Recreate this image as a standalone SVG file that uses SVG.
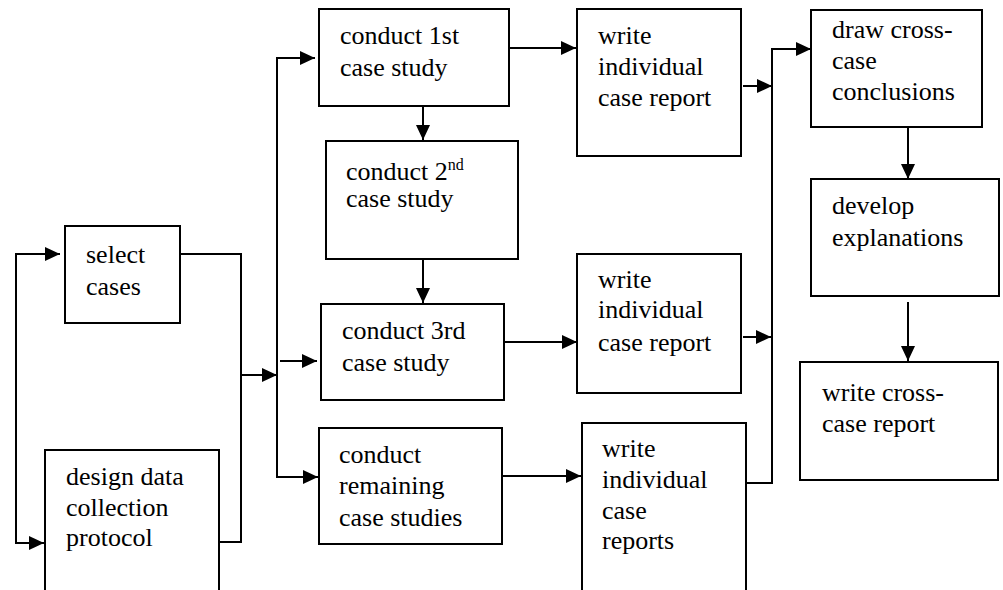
<svg xmlns="http://www.w3.org/2000/svg" width="1003" height="590" viewBox="0 0 1003 590">
<style>
.box{fill:#fff;stroke:#000;stroke-width:2}
.t{font-family:"Liberation Serif","Times New Roman",serif;font-size:26px;fill:#000}
.c{fill:none;stroke:#000;stroke-width:2}
.a{fill:none;stroke:#000;stroke-width:2;marker-end:url(#ah)}
</style>
<defs>
<marker id="ah" markerUnits="userSpaceOnUse" markerWidth="16" markerHeight="14" refX="15" refY="7" orient="auto">
<path d="M0,0 L15,7 L0,14 Z" fill="#000"/>
</marker>
</defs>
<rect width="1003" height="590" fill="#fff"/>
<g id="connectors">
<path class="a" d="M16 254 L60 254"/>
<path class="a" d="M16 253 L16 543 L44 543"/>
<path class="c" d="M180 254 L241 254 L241 542 L219 542"/>
<path class="a" d="M241 375 L277 375"/>
<path class="c" d="M277 58 L277 477"/>
<path class="a" d="M276 58 L315 58"/>
<path class="a" d="M276 477 L318 477"/>
<path class="a" d="M280 361 L317 361"/>
<path class="a" d="M423 106 L423 140"/>
<path class="a" d="M423 259 L423 303"/>
<path class="a" d="M509 48 L576 48"/>
<path class="a" d="M504 342 L577 342"/>
<path class="a" d="M502 476 L581 476"/>
<path class="a" d="M743 86 L772 86"/>
<path class="a" d="M743 337 L771 337"/>
<path class="c" d="M746 483 L772 483 L772 49"/>
<path class="a" d="M771 49 L811 49"/>
<path class="a" d="M908 127 L908 179"/>
<path class="a" d="M908 302 L908 361"/>
</g>
<g id="select-cases">
<rect class="box" x="65" y="226" width="115" height="97"/>
<text class="t" x="86" y="263">select</text>
<text class="t" x="86" y="295">cases</text>
</g>
<g id="design-protocol">
<rect class="box" x="45" y="450" width="174" height="160"/>
<text class="t" x="66" y="485">design data</text>
<text class="t" x="66" y="516">collection</text>
<text class="t" x="66" y="546">protocol</text>
</g>
<g id="conduct-1st">
<rect class="box" x="319" y="9" width="190" height="97"/>
<text class="t" x="340" y="44">conduct 1st</text>
<text class="t" x="340" y="76">case study</text>
</g>
<g id="conduct-2nd">
<rect class="box" x="326" y="141" width="192" height="118"/>
<text class="t" x="346" y="180">conduct 2<tspan font-size="16" dy="-10">nd</tspan></text>
<text class="t" x="346" y="207">case study</text>
</g>
<g id="conduct-3rd">
<rect class="box" x="321" y="304" width="183" height="96"/>
<text class="t" x="342" y="339">conduct 3rd</text>
<text class="t" x="342" y="371">case study</text>
</g>
<g id="conduct-remaining">
<rect class="box" x="319" y="428" width="183" height="116"/>
<text class="t" x="339" y="463">conduct</text>
<text class="t" x="339" y="494">remaining</text>
<text class="t" x="339" y="526">case studies</text>
</g>
<g id="write-report-1">
<rect class="box" x="577" y="9" width="164" height="147"/>
<text class="t" x="598" y="44">write</text>
<text class="t" x="598" y="75">individual</text>
<text class="t" x="598" y="106">case report</text>
</g>
<g id="write-report-2">
<rect class="box" x="577" y="254" width="164" height="139"/>
<text class="t" x="598" y="288">write</text>
<text class="t" x="598" y="318">individual</text>
<text class="t" x="598" y="351">case report</text>
</g>
<g id="write-reports-3">
<rect class="box" x="582" y="423" width="164" height="190"/>
<text class="t" x="602" y="457">write</text>
<text class="t" x="602" y="488">individual</text>
<text class="t" x="602" y="519">case</text>
<text class="t" x="602" y="549">reports</text>
</g>
<g id="draw-conclusions">
<rect class="box" x="811" y="10" width="171" height="117"/>
<text class="t" x="832" y="38">draw cross-</text>
<text class="t" x="832" y="69">case</text>
<text class="t" x="832" y="100">conclusions</text>
</g>
<g id="develop-explanations">
<rect class="box" x="811" y="179" width="188" height="117"/>
<text class="t" x="832" y="214">develop</text>
<text class="t" x="832" y="246">explanations</text>
</g>
<g id="write-cross-case-report">
<rect class="box" x="800" y="362" width="198" height="118"/>
<text class="t" x="822" y="401">write cross-</text>
<text class="t" x="822" y="432">case report</text>
</g>
</svg>
